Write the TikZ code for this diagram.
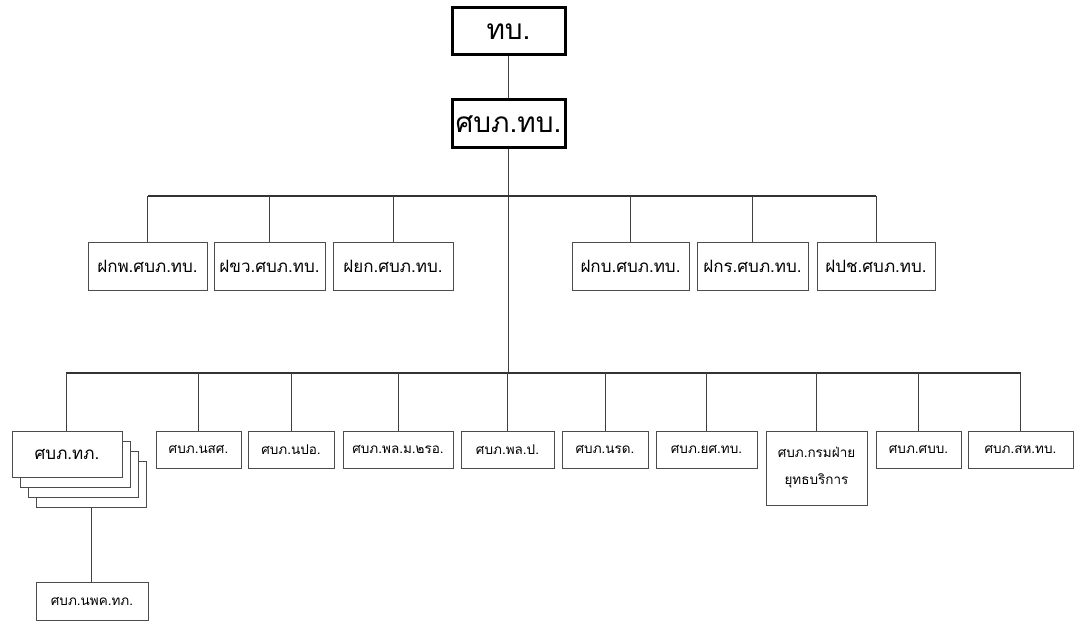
\documentclass[tikz,border=0pt]{standalone}
\usepackage{fontspec}
\newfontfamily\thaifont[Script=Thai]{Loma}
\begin{document}
\begin{tikzpicture}[x=1pt,y=-1pt,
  topbox/.style={draw=black,line width=3pt,fill=white,inner sep=0pt,font=\thaifont\fontsize{28}{30}\selectfont},
  midbox/.style={draw=black!70,line width=1pt,fill=white,inner sep=0pt,minimum height=48pt,font=\thaifont\fontsize{17}{20}\selectfont},
  lowbox/.style={draw=black!70,line width=1pt,fill=white,inner sep=0pt,minimum height=37pt,font=\thaifont\fontsize{13.5}{27}\selectfont},
  link/.style={draw=black!75,line width=1pt},
  bus/.style={draw=black!80,line width=1.6pt}]
\useasboundingbox (0,0) rectangle (1074,623);
% top
\node[topbox,minimum width=113pt,minimum height=47pt] (tb) at (508.5,31.5) {ทบ.};
\node[topbox,minimum width=113pt,minimum height=48pt] (sbp) at (508.5,124) {ศบภ.ทบ.};
\coordinate (b2) at (508.5,196);
\coordinate (b3) at (508.5,373);
% row 2
\node[midbox,minimum width=119pt] (r1) at (147.5,266) {ฝกพ.ศบภ.ทบ.};
\node[midbox,minimum width=111pt] (r2) at (269.5,266) {ฝขว.ศบภ.ทบ.};
\node[midbox,minimum width=120pt] (r3) at (393,266) {ฝยก.ศบภ.ทบ.};
\node[midbox,minimum width=117pt] (r4) at (630.5,266) {ฝกบ.ศบภ.ทบ.};
\node[midbox,minimum width=111pt] (r5) at (752.5,266) {ฝกร.ศบภ.ทบ.};
\node[midbox,minimum width=118pt] (r6) at (876,266) {ฝปช.ศบภ.ทบ.};
% row 3 stack
\node[lowbox,minimum width=110pt,minimum height=46pt] (s3) at (91,484) {};
\node[lowbox,minimum width=110pt,minimum height=46pt] (s2) at (83,474) {};
\node[lowbox,minimum width=110pt,minimum height=46pt] (s1) at (75,464) {};
\node[lowbox,minimum width=110pt,minimum height=46pt,font=\thaifont\fontsize{17}{20}\selectfont] (t1) at (67,454) {ศบภ.ทภ.};
% row 3
\node[lowbox,minimum width=85pt] (t2) at (198.5,449.5) {ศบภ.นสศ.};
\node[lowbox,minimum width=86pt] (t3) at (291,449.5) {ศบภ.นปอ.};
\node[lowbox,minimum width=110pt] (t4) at (398,449.5) {ศบภ.พล.ม.๒รอ.};
\node[lowbox,minimum width=93pt] (t5) at (507.5,449.5) {ศบภ.พล.ป.};
\node[lowbox,minimum width=86pt] (t6) at (605,449.5) {ศบภ.นรด.};
\node[lowbox,minimum width=101pt] (t7) at (706.5,449.5) {ศบภ.ยศ.ทบ.};
\node[lowbox,minimum width=101pt,minimum height=74pt,align=center] (t8) at (816.5,468) {ศบภ.กรมฝ่าย\\ยุทธบริการ};
\node[lowbox,minimum width=85pt] (t9) at (918.5,449.5) {ศบภ.ศบบ.};
\node[lowbox,minimum width=105pt] (t10) at (1020.5,449.5) {ศบภ.สห.ทบ.};
% bottom
\node[lowbox,minimum width=112pt,minimum height=38pt] (nb) at (92,601) {ศบภ.นพค.ทภ.};
% connectors
\draw[link] (tb.south) -- (sbp.north);
\draw[link] (sbp.south) -- (b3);
\draw[bus] (r1.north |- b2) -- (r6.north |- b2);
\foreach \n in {r1,r2,r3,r4,r5,r6} \draw[link] (\n.north |- b2) -- (\n.north);
\draw[bus] (66,373) coordinate (bl) -- (t10.north |- b3);
\draw[link] (bl) -- (bl |- t1.north);
\foreach \n in {t2,t3,t4,t5,t6,t7,t8,t9,t10} \draw[link] (\n.north |- b3) -- (\n.north);
\draw[link] (s3.south) -- (s3.south |- nb.north);
\end{tikzpicture}
\end{document}
